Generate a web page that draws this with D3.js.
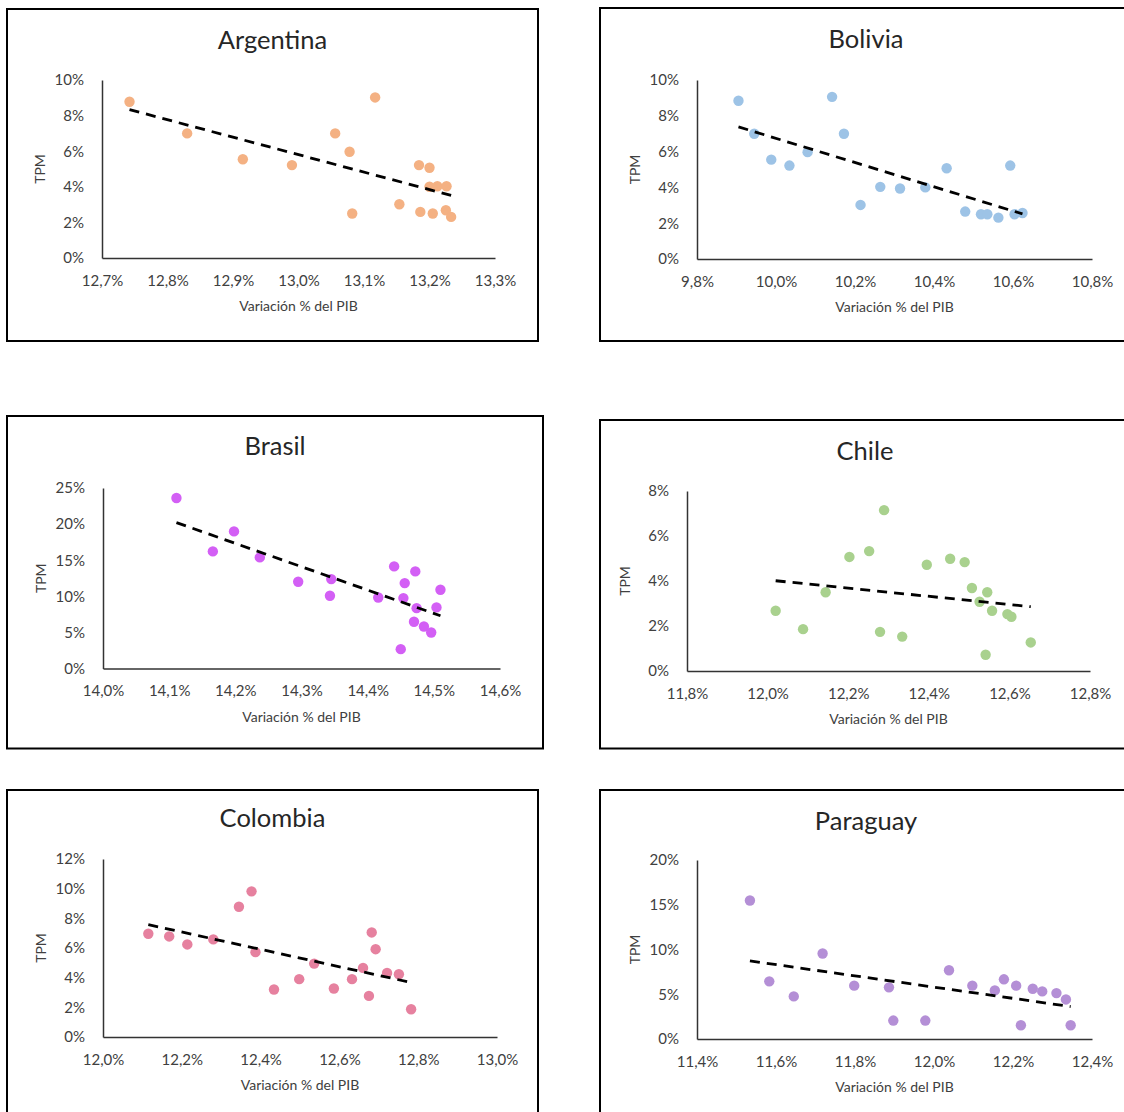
<!DOCTYPE html>
<html>
<head>
<meta charset="utf-8">
<script src="https://cdn.jsdelivr.net/npm/d3@7"></script>
<style>
  body { margin: 0; background: #fff; }
  svg { display: block; font-family: Lato, 'Open Sans', sans-serif; }
  .tick text { fill: #404040; }
</style>
</head>
<body>
<svg width="1124" height="1112"></svg>
<script>
// valores (en %)
const countries = ['Argentina', 'Bolivia', 'Brasil', 'Chile', 'Colombia', 'Paraguay']

const argentinaPib = [12.742, 12.830, 12.915, 12.990, 13.056, 13.078, 13.117, 13.082, 13.154, 13.184, 13.200, 13.200, 13.212, 13.226, 13.186, 13.205, 13.225, 13.233]
const argentinaTpm = [8.78, 7.0, 5.55, 5.22, 7.0, 5.97, 9.02, 2.50, 3.02, 5.22, 5.07, 4.0, 4.03, 4.03, 2.59, 2.50, 2.68, 2.31]

const boliviaPib = [9.905, 9.945, 9.988, 10.034, 10.080, 10.142, 10.172, 10.214, 10.264, 10.314, 10.378, 10.432, 10.479, 10.519, 10.535, 10.563, 10.593, 10.604, 10.624]
const boliviaTpm = [8.84, 7.0, 5.55, 5.22, 5.97, 9.06, 7.0, 3.02, 4.03, 3.94, 4.0, 5.07, 2.65, 2.50, 2.50, 2.31, 5.22, 2.50, 2.57]

const brasilPib = [14.111, 14.166, 14.198, 14.237, 14.295, 14.345, 14.343, 14.416, 14.440, 14.450, 14.456, 14.454, 14.472, 14.474, 14.470, 14.485, 14.496, 14.504, 14.510]
const brasilTpm = [23.61, 16.22, 18.99, 15.39, 12.01, 12.38, 10.07, 9.84, 14.14, 2.68, 11.83, 9.75, 13.45, 8.36, 6.47, 5.82, 4.99, 8.46, 10.91]

const chilePib = [12.020, 12.088, 12.144, 12.203, 12.252, 12.289, 12.279, 12.334, 12.395, 12.453, 12.489, 12.507, 12.526, 12.545, 12.557, 12.541, 12.595, 12.605, 12.653]
const chileTpm = [2.68, 1.86, 3.50, 5.07, 5.33, 7.15, 1.74, 1.53, 4.72, 4.99, 4.84, 3.69, 3.08, 3.50, 2.68, 0.72, 2.53, 2.41, 1.27]

const colombiaPib = [12.115, 12.168, 12.214, 12.280, 12.345, 12.377, 12.387, 12.434, 12.498, 12.536, 12.586, 12.632, 12.660, 12.675, 12.682, 12.692, 12.721, 12.751, 12.782]
const colombiaTpm = [6.96, 6.78, 6.24, 6.58, 8.78, 9.82, 5.72, 3.20, 3.90, 4.95, 3.27, 3.90, 4.66, 2.77, 7.05, 5.92, 4.32, 4.23, 1.87]

const paraguayPib = [11.534, 11.583, 11.645, 11.718, 11.798, 11.886, 11.897, 11.978, 12.038, 12.097, 12.154, 12.177, 12.208, 12.220, 12.250, 12.274, 12.310, 12.334, 12.346]
const paraguayTpm = [15.47, 6.44, 4.76, 9.55, 5.96, 5.77, 2.06, 2.06, 7.68, 5.96, 5.43, 6.67, 5.96, 1.54, 5.62, 5.32, 5.13, 4.42, 1.54]

// ticks de cada eje
const argentinaXTicks = [12.7, 12.8, 12.9, 13.0, 13.1, 13.2, 13.3]
const boliviaXTicks = [9.8, 10.0, 10.2, 10.4, 10.6, 10.8]
const brasilXTicks = [14.0, 14.1, 14.2, 14.3, 14.4, 14.5, 14.6]
const chileXTicks = [11.8, 12.0, 12.2, 12.4, 12.6, 12.8]
const colombiaXTicks = [12.0, 12.2, 12.4, 12.6, 12.8, 13.0]
const paraguayXTicks = [11.4, 11.6, 11.8, 12.0, 12.2, 12.4]

const argentinaYTicks = [0, 2, 4, 6, 8, 10]
const boliviaYTicks = [0, 2, 4, 6, 8, 10]
const brasilYTicks = [0, 5, 10, 15, 20, 25]
const chileYTicks = [0, 2, 4, 6, 8]
const colombiaYTicks = [0, 2, 4, 6, 8, 10, 12]
const paraguayYTicks = [0, 5, 10, 15, 20]

const colors = ['#F4B183', '#9DC3E6', '#D35FF5', '#A9D18E', '#E6819F', '#B48FD6']

const svg = d3.select('svg'),
  locale = d3.formatLocale({ decimal: ',', thousands: '.', grouping: [3], currency: ['', ''] }),
  fmtX = locale.format('.1f')

// caja del recuadro y del area de trazado
const panels = [
  { frame: [7, 9, 538, 341], plot: [102, 495, 80, 258], title: 49, pib: argentinaPib, tpm: argentinaTpm, xt: argentinaXTicks, yt: argentinaYTicks },
  { frame: [600, 8, 1132, 341], plot: [697, 1092, 80, 259], title: 48, pib: boliviaPib, tpm: boliviaTpm, xt: boliviaXTicks, yt: boliviaYTicks },
  { frame: [7, 416, 543, 748.5], plot: [103, 500, 488, 668.5], title: 455, pib: brasilPib, tpm: brasilTpm, xt: brasilXTicks, yt: brasilYTicks },
  { frame: [600, 420, 1130, 748.5], plot: [687, 1090, 491, 671], title: 460, pib: chilePib, tpm: chileTpm, xt: chileXTicks, yt: chileYTicks },
  { frame: [7, 790, 538, 1125], plot: [103, 497, 859, 1037], title: 827, pib: colombiaPib, tpm: colombiaTpm, xt: colombiaXTicks, yt: colombiaYTicks },
  { frame: [600, 790, 1132, 1125], plot: [697, 1092, 860, 1039], title: 830, pib: paraguayPib, tpm: paraguayTpm, xt: paraguayXTicks, yt: paraguayYTicks }
]

panels.forEach((p, i) => draw(p, countries[i], colors[i]))

function draw(p, name, color) {
  const [fx0, fy0, fx1, fy1] = p.frame,
    [left, right, top, bottom] = p.plot,
    g = svg.append('g'),
    x = d3.scaleLinear().domain(d3.extent(p.xt)).range([left, right]),
    y = d3.scaleLinear().domain(d3.extent(p.yt)).range([bottom, top])

  g.append('rect')
    .attr('x', fx0).attr('y', fy0)
    .attr('width', fx1 - fx0).attr('height', fy1 - fy0)
    .attr('fill', 'none').attr('stroke', '#000').attr('stroke-width', 2)

  g.append('text')
    .attr('x', (fx0 + fx1) / 2).attr('y', p.title)
    .attr('text-anchor', 'middle')
    .attr('font-size', 25.5).attr('fill', '#262626')
    .text(name)

  const ax = g.append('g')
    .attr('transform', `translate(0,${bottom})`)
    .call(d3.axisBottom(x).tickValues(p.xt).tickFormat(d => fmtX(d) + '%').tickSize(0).tickPadding(17))
  const ay = g.append('g')
    .attr('transform', `translate(${left},0)`)
    .call(d3.axisLeft(y).tickValues(p.yt).tickFormat(d => d + '%').tickSize(0).tickPadding(18))
  ;[ax, ay].forEach(a => {
    a.select('.domain').attr('stroke', '#333').attr('stroke-width', 1.5)
    a.selectAll('text').attr('font-size', 15).attr('font-family', 'Lato')
  })

  g.append('text')
    .attr('x', (left + right) / 2).attr('y', bottom + 53)
    .attr('text-anchor', 'middle').attr('font-size', 14).attr('fill', '#404040')
    .text('Variación % del PIB')

  g.append('text')
    .attr('transform', `translate(${left - 57},${(top + bottom) / 2}) rotate(-90)`)
    .attr('text-anchor', 'middle').attr('font-size', 14).attr('fill', '#404040')
    .text('TPM')

  const pts = p.pib.map((v, k) => [v, p.tpm[k]])

  g.selectAll('circle')
    .data(pts)
    .join('circle')
    .attr('cx', d => x(d[0]))
    .attr('cy', d => y(d[1]))
    .attr('r', 5.2)
    .attr('fill', color)

  // linea de tendencia (minimos cuadrados)
  const mx = d3.mean(pts, d => d[0]),
    my = d3.mean(pts, d => d[1]),
    b = d3.sum(pts, d => (d[0] - mx) * (d[1] - my)) / d3.sum(pts, d => (d[0] - mx) ** 2),
    a = my - b * mx,
    ends = d3.extent(p.pib).map(v => [v, a + b * v])

  g.append('path')
    .attr('d', d3.line().x(d => x(d[0])).y(d => y(d[1]))(ends))
    .attr('stroke', '#000')
    .attr('stroke-width', 2.8)
    .attr('stroke-dasharray', '10,7')
    .attr('fill', 'none')
}
</script>
</body>
</html>
